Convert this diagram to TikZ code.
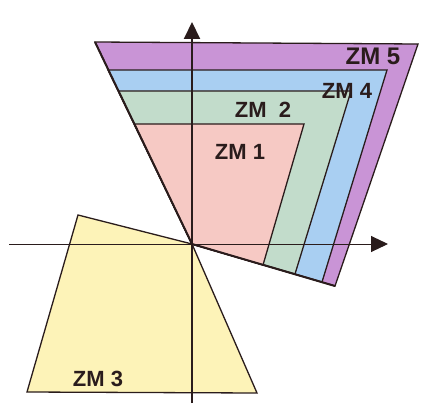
\documentclass[tikz,border=0pt]{standalone}
\usepackage{fontspec}
\setsansfont{Liberation Sans}
\usetikzlibrary{arrows.meta}
\definecolor{cz5}{HTML}{C994D6}
\definecolor{cz4}{HTML}{A9CFF2}
\definecolor{cz2}{HTML}{C2DCCB}
\definecolor{cz1}{HTML}{F6C9C4}
\definecolor{cz3}{HTML}{FDF3B8}
\definecolor{ink}{HTML}{2A1C1C}
\tikzset{
  zone/.style={draw=ink, line width=1.3pt, line join=miter},
  zlabel/.style={font=\sffamily\bfseries\fontsize{22}{22}\selectfont, text=ink, inner sep=0pt},
  axis/.style={draw=ink, -{Triangle[length=17pt,width=16pt]}}
}
\begin{document}
\begin{tikzpicture}[x=1pt,y=-1pt]
\useasboundingbox (0,0) rectangle (443,414);
\fill[white] (0,0) rectangle (443,414);
\coordinate (O) at (192,244);
% zones in first quadrant
\coordinate (z5a) at (95,42);  \coordinate (z5b) at (418,44);  \coordinate (z5c) at (335,286);
\coordinate (z4a) at (108,70); \coordinate (z4b) at (387,70);  \coordinate (z4c) at (322,282);
\coordinate (z2a) at (118.5,91); \coordinate (z2b) at (351,91); \coordinate (z2c) at (295,274);
\coordinate (z1a) at (134.5,124); \coordinate (z1b) at (304,124); \coordinate (z1c) at (263,265);
\coordinate (z3a) at (78,215); \coordinate (z3b) at (257,393); \coordinate (z3c) at (27,392);
\filldraw[zone, fill=cz5] (z5a) -- (z5b) -- (z5c) -- (O) -- cycle;
\filldraw[zone, fill=cz4] (z4a) -- (z4b) -- (z4c) -- (O) -- cycle;
\filldraw[zone, fill=cz2] (z2a) -- (z2b) -- (z2c) -- (O) -- cycle;
\filldraw[zone, fill=cz1] (z1a) -- (z1b) -- (z1c) -- (O) -- cycle;
\filldraw[zone, fill=cz3] (z3a) -- (O) -- (z3b) -- (z3c) -- cycle;
\draw[ink, line width=2pt] (z5a) -- (O) -- (z5c);
% axes
\coordinate (xl) at (9,244); \coordinate (xr) at (388,244);
\coordinate (yb) at (192,403); \coordinate (yt) at (192,22);
\draw[axis, line width=1pt] (xl) -- (xr);
\draw[axis, line width=2pt] (yb) -- (yt);
% labels
\node[zlabel, font=\sffamily\bfseries\fontsize{24}{24}\selectfont] (l5) at (373,56) {ZM 5};
\node[zlabel] (l4) at (347,91) {ZM 4};
\node[zlabel] (l2) at (263,110) {ZM\ \ 2};
\node[zlabel] (l1) at (240,152) {ZM 1};
\node[zlabel] (l3) at (98,379) {ZM 3};
\end{tikzpicture}
\end{document}
